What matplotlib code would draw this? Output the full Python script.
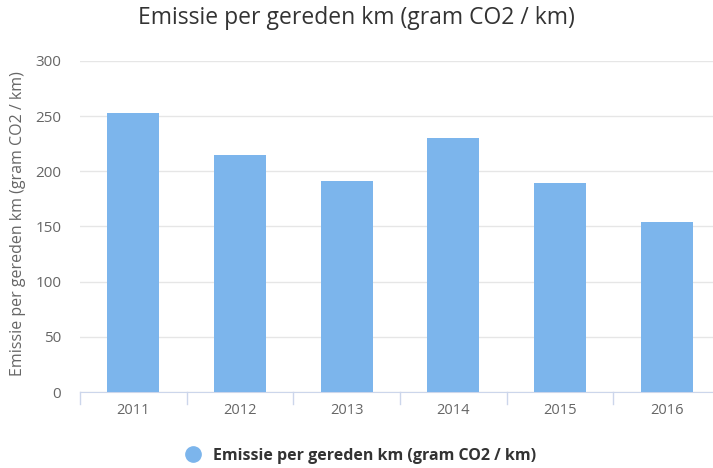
import matplotlib
matplotlib.use("Agg")
import matplotlib.pyplot as plt
from matplotlib.lines import Line2D

years = ["2011", "2012", "2013", "2014", "2015", "2016"]
values = [253, 215, 191, 230, 189, 154]
yticks = [0, 50, 100, 150, 200, 250, 300]
title = "Emissie per gereden km (gram CO2 / km)"

plt.rcParams['font.family'] = ['Open Sans', 'DejaVu Sans']

fig = plt.figure(figsize=(7.13, 4.68), dpi=100)
W, H = 713, 468
ax = fig.add_axes([80 / W, 1 - 392 / H, 640 / W, 331 / H])

x = list(range(len(years)))
ax.bar(x, values, width=0.485, color="#7cb5ec", zorder=3)
ax.set_xlim(-0.5, len(years) - 0.5)
ax.set_ylim(0, 300)
ax.set_yticks(yticks)
ax.set_yticklabels([str(v) for v in yticks], color="#666666", fontsize=11)
ax.set_xticks(x)
ax.set_xticklabels(years, color="#666666", fontsize=10.5)
ax.tick_params(axis='y', length=0, pad=13.5)
ax.tick_params(axis='x', length=0, pad=8)
for b in [i - 0.5 for i in range(len(years) + 1)]:
    ax.plot([b, b], [0, -0.035], transform=ax.get_xaxis_transform(), color="#ccd6eb",
            lw=1, clip_on=False)
ax.grid(axis='y', color="#e6e6e6", lw=1, zorder=0)
for s in ['top', 'right', 'left']:
    ax.spines[s].set_visible(False)
ax.spines['bottom'].set_color("#ccd6eb")

fig.text(18 / W, 1 - 224 / H, title, rotation=90, ha='center', va='center',
         color="#666666", fontsize=11.5)

fig.text(0.5, 1 - 18 / H, title, ha='center', va='center', fontsize=16.5, color="#333333")

handle = Line2D([], [], marker='o', linestyle='none', markersize=11,
                markerfacecolor="#7cb5ec", markeredgecolor="#7cb5ec")
fig.legend([handle], [title], loc='center', bbox_to_anchor=(0.5, 1 - 456 / H),
           frameon=False, prop={'weight': 'bold', 'size': 11.5}, handletextpad=0.3,
           labelcolor="#333333")

fig.savefig("out.png", dpi=100)
